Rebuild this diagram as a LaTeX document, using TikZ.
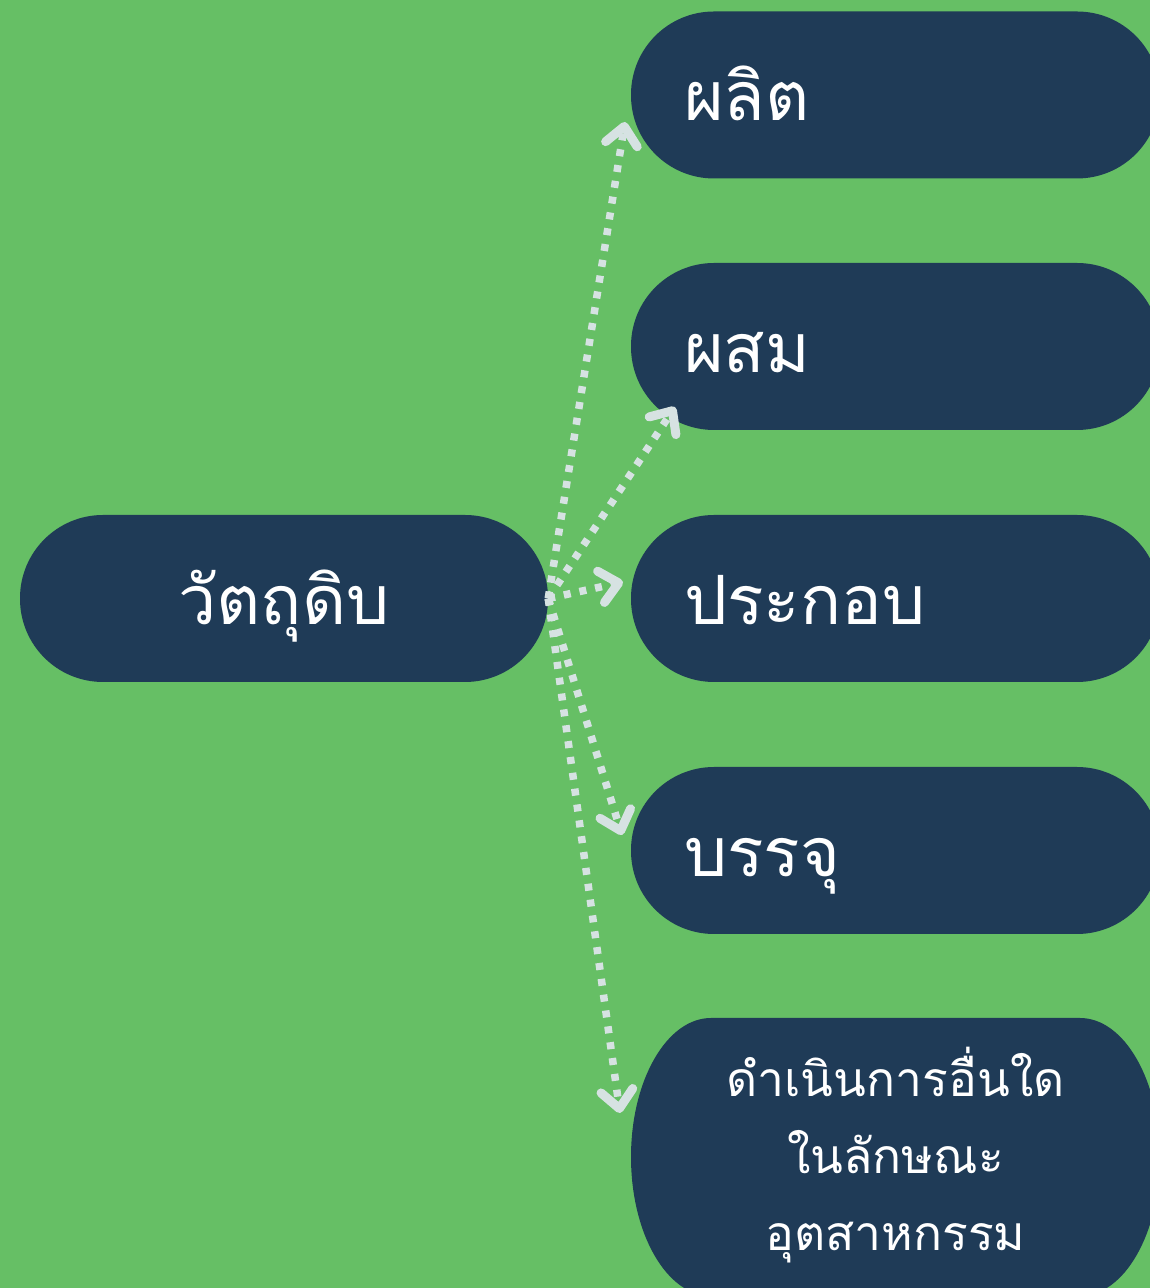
\documentclass[tikz,border=0pt]{standalone}
\usepackage{fontspec}
\newfontfamily\thaifont[Script=Thai]{Loma}
\usetikzlibrary{arrows.meta}
\definecolor{bggreen}{RGB}{102,191,101}
\definecolor{navy}{RGB}{31,59,87}
\definecolor{arrowc}{RGB}{214,226,226}
\tikzset{
  box/.style={fill=navy, rounded corners=83pt, minimum width=529pt, minimum height=167pt,
    inner sep=0pt, text=white, text height=60pt, text depth=8pt,
    font=\thaifont\fontsize{68}{76}\selectfont},
  leftbox/.style={box, text width=423pt, align=left},
  conn/.style={draw=arrowc, line width=7.5pt, dash pattern=on 7pt off 9pt,
    -{Straight Barb[length=18pt,width=32pt,line width=9pt,line cap=round,line join=round]}}
}
\begin{document}
\begin{tikzpicture}[x=1pt,y=1pt]
\useasboundingbox (0,0) rectangle (1150,1288);
\clip (0,0) rectangle (1150,1288);
\fill[bggreen] (0,0) rectangle (1150,1288);
\node[box, minimum width=528pt] (src) at (284,689.5) {วัตถุดิบ};
\node[leftbox] (t1) at (895.5,1193) {ผลิต};
\node[leftbox] (t2) at (895.5,941.5) {ผสม};
\node[leftbox] (t3) at (895.5,689.5) {ประกอบ};
\node[leftbox] (t4) at (895.5,437.5) {บรรจุ};
\fill[navy] (711,270) -- (1080,270) arc[start angle=90,end angle=0,x radius=80,y radius=139]
  arc[start angle=0,end angle=-90,x radius=80,y radius=139] -- (711,-8)
  arc[start angle=270,end angle=180,x radius=80,y radius=139]
  arc[start angle=180,end angle=90,x radius=80,y radius=139] -- cycle;
\node[text=white, align=center, inner sep=0pt, font=\thaifont\fontsize{48}{77}\selectfont] (t5) at (895.5,133)
  {ดำเนินการอื่นใด\\ในลักษณะ\\อุตสาหกรรม};
\coordinate (e1) at (625,1166);
\coordinate (e2) at (675,881);
\coordinate (e3) at (623,706);
\coordinate (e4) at (622,453);
\coordinate (e5) at (620,175);
\draw[conn] (src.east) -- (e1);
\draw[conn] (src.east) -- (e2);
\draw[conn] (src.east) -- (e3);
\draw[conn] (src.east) -- (e4);
\draw[conn] (src.east) -- (e5);
\end{tikzpicture}
\end{document}
